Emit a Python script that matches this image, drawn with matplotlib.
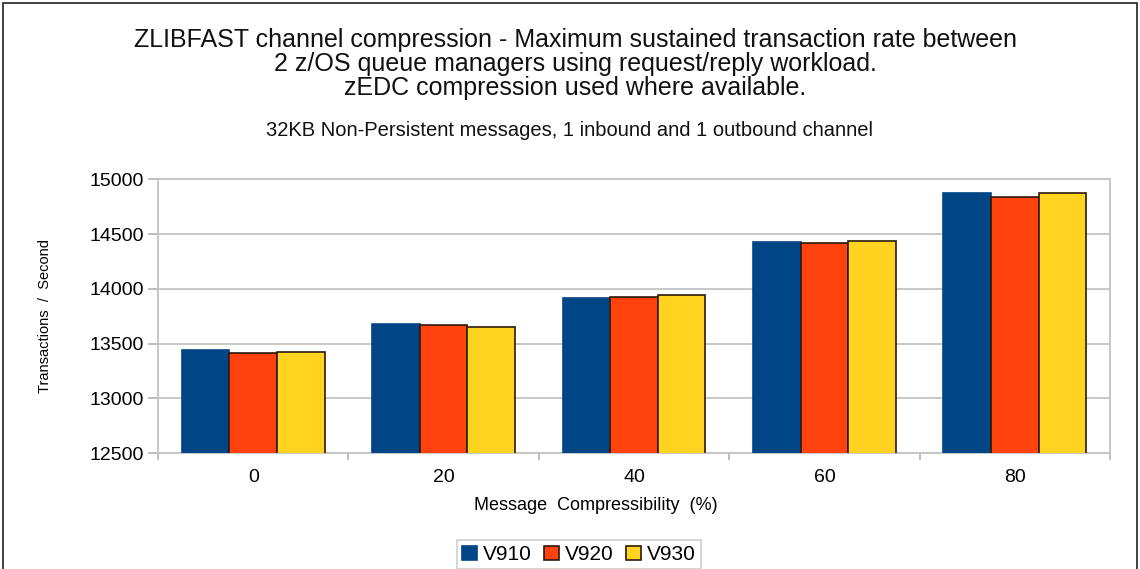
import matplotlib
matplotlib.use("Agg")
import matplotlib.pyplot as plt
import numpy as np
from matplotlib.patches import Rectangle

plt.rcParams['font.family'] = ['Liberation Sans', 'DejaVu Sans']

# Data
categories = ['0', '20', '40', '60', '80']
series_names = ['V910', 'V920', 'V930']
v910 = [13440, 13680, 13920, 14430, 14878]
v920 = [13418, 13671, 13929, 14419, 14841]
v930 = [13427, 13655, 13942, 14440, 14878]
y_ticks = [12500, 13000, 13500, 14000, 14500, 15000]

colors = ['#004586', '#ff420e', '#ffd320']
edges = ['#004586', '#2b1a0c', '#2b1a0c']

W, H = 1140, 569
fig = plt.figure(figsize=(W / 100, H / 100), dpi=100)
fig.patch.set_facecolor('white')

# outer frame
fig.patches.append(Rectangle((3 / W, -0.05), (W - 6) / W, 1.05 - 3 / H,
                             transform=fig.transFigure, fill=False,
                             edgecolor='#333333', linewidth=1.3))

left, right = 158 / W, 1110 / W
bottom, top = 1 - 453.3 / H, 1 - 179.3 / H
ax = fig.add_axes([left, bottom, right - left, top - bottom])
ax_w = (right - left) * W
ax_h = (top - bottom) * H

x = np.arange(len(categories))
bw = 0.25
for i, (vals, c, e) in enumerate(zip([v910, v920, v930], colors, edges)):
    ax.bar(x + (i - 1) * bw, vals, width=bw, color=c, edgecolor=e,
           linewidth=1.2, label=series_names[i], zorder=3)

ax.set_xlim(-0.5, len(categories) - 0.5)
ax.set_ylim(12500, 15000)
ax.set_yticks(y_ticks)
ax.set_yticklabels([str(t) for t in y_ticks], fontsize=14)
ax.yaxis.grid(True, color='#c4c4c4', linewidth=1.3, zorder=0)
ax.set_axisbelow(True)

ax.set_xticks(x)
ax.set_xticklabels(categories, fontsize=14)
ax.set_xticks(np.arange(len(categories) + 1) - 0.5, minor=True)
ax.tick_params(axis='x', which='major', length=0, pad=11)
ax.tick_params(axis='x', which='minor', length=5, color='#b3b3b3', width=1.2)
ax.tick_params(axis='y', length=7, color='#b3b3b3', width=1.2, pad=3)

for s in ax.spines.values():
    s.set_color('#c4c4c4')
    s.set_linewidth(1.3)

ax.set_xlabel('Message  Compressibility  (%)', fontsize=13, va='center')
ax.xaxis.set_label_coords((596 - 158) / ax_w, -(506 - 453.3) / ax_h)
ax.set_ylabel('Transactions  /  Second', fontsize=10.5, va='center')
ax.yaxis.set_label_coords((45 - 158) / ax_w, 0.5 - (316 - 316.3) / ax_h)

title_lines = [
    'ZLIBFAST channel compression - Maximum sustained transaction rate between',
    '2 z/OS queue managers using request/reply workload.',
    'zEDC compression used where available.',
]
for k, line in enumerate(title_lines):
    fig.text(575 / W, 1 - (40 + 24 * k) / H, line, ha='center', va='center',
             fontsize=18, color='#111111')
fig.text(569 / W, 1 - 130 / H,
         '32KB Non-Persistent messages, 1 inbound and 1 outbound channel',
         ha='center', va='center', fontsize=14.5, color='#111111')

leg = fig.legend(loc='upper center', bbox_to_anchor=(579 / W, 1 - 540 / H),
                 ncol=3, fontsize=15, frameon=True, fancybox=False,
                 edgecolor='#c4c4c4', handlelength=0.7, handleheight=0.7,
                 handletextpad=0.3, columnspacing=0.6, borderpad=0.25,
                 borderaxespad=0)
leg.get_frame().set_linewidth(1.2)

fig.savefig('out.png', dpi=100)
